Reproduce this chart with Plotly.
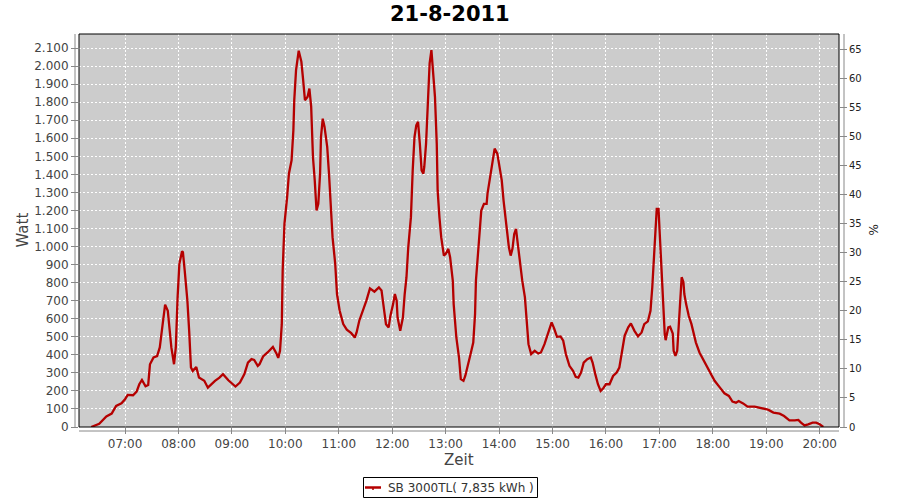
import plotly.graph_objects as go

DAY = "2011-08-21"

times = [
    "06:22", "06:31", "06:39", "06:45", "06:50", "06:56", "07:00", "07:03", "07:09", "07:13",
    "07:16", "07:19", "07:23", "07:26", "07:28", "07:32", "07:36", "07:39", "07:42", "07:45",
    "07:48", "07:50", "07:52", "07:55", "07:57", "07:59", "08:01", "08:04", "08:05", "08:07",
    "08:10", "08:12", "08:14", "08:16", "08:20", "08:23", "08:29", "08:33", "08:41", "08:46",
    "08:50", "08:56", "09:04", "09:09", "09:14", "09:18", "09:22", "09:25", "09:29", "09:31",
    "09:35", "09:40", "09:46", "09:50", "09:52", "09:54", "09:56", "09:57", "09:59", "10:02",
    "10:04", "10:07", "10:09", "10:10", "10:12", "10:15", "10:18", "10:20", "10:22", "10:25",
    "10:27", "10:29", "10:31", "10:33", "10:35", "10:37", "10:39", "10:40", "10:42", "10:44",
    "10:47", "10:49", "10:51", "10:53", "10:56", "10:58", "11:01", "11:05", "11:09", "11:14",
    "11:18", "11:20", "11:23", "11:27", "11:31", "11:35", "11:40", "11:45", "11:48", "11:50",
    "11:53", "11:56", "11:58", "12:01", "12:03", "12:05", "12:06", "12:09", "12:12", "12:14",
    "12:16", "12:18", "12:21", "12:23", "12:25", "12:27", "12:29", "12:31", "12:33", "12:35",
    "12:36", "12:38", "12:40", "12:42", "12:44", "12:46", "12:48", "12:50", "12:51", "12:53",
    "12:55", "12:58", "13:00", "13:03", "13:05", "13:08", "13:09", "13:12", "13:15", "13:17",
    "13:20", "13:22", "13:25", "13:28", "13:31", "13:33", "13:34", "13:36", "13:38", "13:40",
    "13:43", "13:46", "13:47", "13:50", "13:52", "13:55", "13:58", "14:00", "14:03", "14:05",
    "14:08", "14:11", "14:13", "14:15", "14:17", "14:19", "14:21", "14:23", "14:26", "14:29",
    "14:31", "14:33", "14:36", "14:40", "14:44", "14:47", "14:51", "14:55", "14:59", "15:02",
    "15:05", "15:09", "15:12", "15:15", "15:19", "15:23", "15:26", "15:29", "15:32", "15:35",
    "15:39", "15:43", "15:45", "15:48", "15:51", "15:54", "15:57", "16:00", "16:04", "16:08",
    "16:12", "16:15", "16:18", "16:21", "16:25", "16:28", "16:32", "16:36", "16:40", "16:43",
    "16:47", "16:50", "16:52", "16:54", "16:55", "16:57", "16:59", "17:00", "17:02", "17:04",
    "17:06", "17:07", "17:10", "17:12", "17:15", "17:16", "17:18", "17:20", "17:22", "17:24",
    "17:25", "17:27", "17:28", "17:30", "17:33", "17:36", "17:38", "17:41", "17:45", "17:51",
    "17:56", "18:02", "18:08", "18:13", "18:18", "18:22", "18:26", "18:29", "18:34", "18:39",
    "18:47", "18:54", "19:02", "19:08", "19:15", "19:20", "19:26", "19:32", "19:36", "19:39",
    "19:43", "19:47", "19:52", "19:56", "20:00", "20:04",
]

watt = [
    0, 18, 59, 74, 117, 131, 154, 178, 176, 196,
    237, 261, 226, 233, 348, 385, 393, 441, 561, 678,
    644, 552, 441, 348, 441, 718, 904, 974, 968, 867,
    700, 533, 330, 311, 333, 274, 256, 218, 256, 274,
    293, 259, 224, 246, 293, 357, 376, 372, 339, 348,
    391, 413, 444, 407, 383, 422, 570, 867, 1126, 1274,
    1404, 1478, 1644, 1811, 1978, 2085, 2024, 1922, 1811, 1830,
    1876, 1774, 1496, 1367, 1200, 1237, 1404, 1607, 1709, 1663,
    1552, 1404, 1218, 1052, 904, 737, 644, 570, 539, 520,
    496, 524, 589, 644, 700, 768, 750, 774, 756, 681,
    570, 552, 617, 681, 737, 700, 607, 533, 607, 737,
    830, 996, 1163, 1422, 1607, 1672, 1691, 1570, 1422, 1404,
    1441, 1570, 1830, 2015, 2089, 1978, 1830, 1570, 1311, 1163,
    1052, 950, 959, 987, 941, 811, 681, 496, 385, 265,
    256, 283, 339, 404, 468, 626, 811, 941, 1089, 1200,
    1237, 1237, 1293, 1385, 1468, 1543, 1515, 1459, 1367, 1256,
    1126, 996, 950, 987, 1070, 1098, 1015, 922, 811, 718,
    589, 459, 404, 422, 407, 413, 459, 524, 580, 543,
    500, 502, 478, 404, 339, 311, 278, 274, 302, 357,
    376, 385, 357, 293, 237, 200, 215, 237, 237, 283,
    302, 329, 422, 506, 552, 574, 533, 502, 524, 570,
    585, 644, 774, 959, 1052, 1209, 1209, 1107, 922, 663,
    515, 481, 552, 556, 518, 422, 394, 422, 570, 718,
    830, 802, 737, 681, 615, 570, 533, 468, 413, 357,
    315, 256, 218, 187, 172, 141, 135, 144, 131, 113,
    113, 104, 96, 80, 74, 61, 37, 37, 39, 24,
    9, 15, 24, 24, 15, 0,
]

hour_ticks = ["07:00", "08:00", "09:00", "10:00", "11:00", "12:00", "13:00",
              "14:00", "15:00", "16:00", "17:00", "18:00", "19:00", "20:00"]
watt_ticks = list(range(0, 2101, 100))
pct_ticks = list(range(0, 66, 5))

title_text = "21-8-2011"
series_name = "SB 3000TL( 7,835 kWh )"
x_range = ["06:08:18", "20:21:40"]
y_range = [0, 2178]
y2_range = [0, 67.6]

FONT = "DejaVu Sans"
LINE_COLOR = "#B50000"
GRID = dict(showgrid=True, gridcolor="white", gridwidth=1, griddash="2px,2px")

# plot area in pixels (layout geometry)
L, R, T, B = 79, 839, 34, 427
PW, PH = R - L, B - T


def px(xp):
    return (xp - L) / PW


def py(yp):
    return (B - yp) / PH


xs = [f"{DAY} {t}" for t in times]

fig = go.Figure()
fig.add_trace(go.Scatter(
    x=xs, y=watt, mode="lines", name=series_name,
    line=dict(color=LINE_COLOR, width=2.3), showlegend=False,
))
fig.add_trace(go.Scatter(
    x=[xs[0]], y=[None], yaxis="y2", mode="lines", showlegend=False,
    hoverinfo="skip",
))

fig.update_layout(
    width=900, height=500,
    margin=dict(l=L, r=900 - R, t=T, b=500 - B, autoexpand=False),
    paper_bgcolor="white", plot_bgcolor="#CCCCCC",
    font=dict(family=FONT, size=12, color="#444444"),
    showlegend=False,
    xaxis=dict(
        type="date", automargin=False,
        range=[f"{DAY} {x_range[0]}", f"{DAY} {x_range[1]}"],
        tickvals=[f"{DAY} {t}" for t in hour_ticks],
        ticktext=hour_ticks,
        ticks="outside", ticklen=6, tickcolor="#888888", tickwidth=1,
        tickfont=dict(family=FONT, size=12, color="#444444"),
        showline=False, zeroline=False, **GRID,
    ),
    yaxis=dict(
        range=y_range, tickvals=watt_ticks, automargin=False,
        ticktext=[f"{v:,}".replace(",", ".") for v in watt_ticks],
        ticks="outside", ticklen=7, tickcolor="#888888", tickwidth=1,
        tickfont=dict(family=FONT, size=12, color="#444444"),
        showline=False, zeroline=False, **GRID,
    ),
    yaxis2=dict(
        range=y2_range, tickvals=pct_ticks, overlaying="y", side="right",
        automargin=False,
        ticks="outside", ticklen=7, tickcolor="#888888", tickwidth=1,
        tickfont=dict(family=FONT, size=10, color="#222222"),
        showgrid=False, showline=False, zeroline=False,
    ),
    annotations=[
        dict(text=f"<b>{title_text}</b>", xref="paper", yref="paper",
             x=px(450), y=py(14), showarrow=False, xanchor="center", yanchor="middle",
             font=dict(family=FONT, size=21, color="#000000")),
        dict(text="Watt", xref="paper", yref="paper", x=px(22), y=0.5,
             textangle=-90, showarrow=False, xanchor="center", yanchor="middle",
             font=dict(family=FONT, size=15, color="#444444")),
        dict(text="Zeit", xref="paper", yref="paper", x=0.5, y=py(460),
             showarrow=False, xanchor="center", yanchor="middle",
             font=dict(family=FONT, size=15, color="#444444")),
        dict(text="%", xref="paper", yref="paper", x=px(873), y=0.5,
             textangle=-90, showarrow=False, xanchor="center", yanchor="middle",
             font=dict(family=FONT, size=12, color="#222222")),
        dict(text=series_name, xref="paper", yref="paper", x=px(386), y=py(487.5),
             showarrow=False, xanchor="left", yanchor="middle",
             font=dict(family=FONT, size=12, color="#333333")),
    ],
    shapes=[
        dict(type="rect", xref="paper", yref="paper", x0=0, x1=1, y0=0, y1=1,
             line=dict(color="#000000", width=1), layer="above"),
        dict(type="line", xref="paper", yref="paper", xsizemode="pixel", xanchor=0,
             x0=-4, x1=-4, y0=0, y1=1, line=dict(color="#888888", width=1)),
        dict(type="line", xref="paper", yref="paper", xsizemode="pixel", xanchor=1,
             x0=5, x1=5, y0=0, y1=1, line=dict(color="#888888", width=1)),
        dict(type="line", xref="paper", yref="paper", ysizemode="pixel", yanchor=0,
             y0=-4, y1=-4, x0=0, x1=1, line=dict(color="#888888", width=1)),
        # legend box
        dict(type="rect", xref="paper", yref="paper", x0=px(363.5), x1=px(537.5),
             y0=py(477.5), y1=py(497.5), line=dict(color="#000000", width=1),
             fillcolor="white"),
        dict(type="line", xref="paper", yref="paper", x0=px(365), x1=px(381),
             y0=py(487.5), y1=py(487.5), line=dict(color=LINE_COLOR, width=2.5)),
        dict(type="line", xref="paper", yref="paper", x0=px(373), x1=px(373),
             y0=py(487.5), y1=py(490), line=dict(color=LINE_COLOR, width=1.5)),
    ],
)

fig.write_html(
    "out.html",
    config={"displayModeBar": False},
    post_script="document.body.style.margin='0';document.body.style.padding='0';",
)
